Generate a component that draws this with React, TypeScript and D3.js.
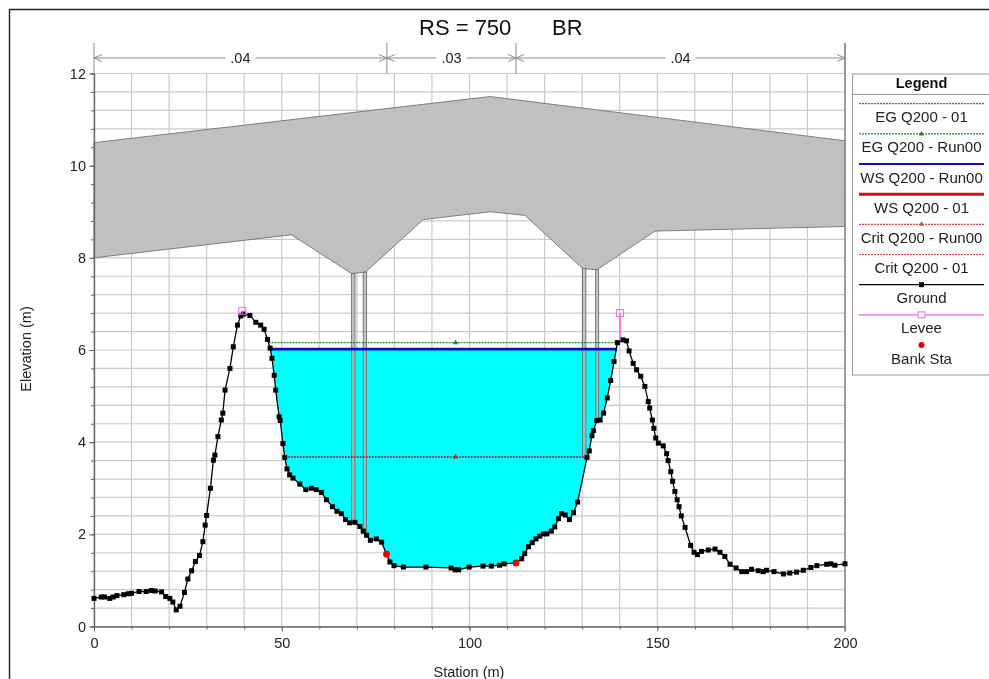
import React, { useEffect, useRef } from 'react'
import * as d3 from 'd3'

const width = 989
const height = 679
const FONT = '"Liberation Sans", Arial, sans-serif'

// ground survey: station / elevation
const groundStation = [
  0, 1.95, 2.8, 4.2, 5.1, 6.1, 7.9, 9.1, 10, 12, 13.9, 15.3, 16.3, 18, 19.1, 20.2, 21, 21.9, 22.9, 24.1,
  25, 26, 27, 28.1, 29, 29.6, 30, 31, 31.8, 32.2, 33, 33.9, 34.3, 34.9, 36.2, 37.1, 38.2, 39.1, 39.8, 41.5,
  43.1, 44.4, 45.3, 46.2, 46.9, 47.4, 48, 48.4, 49.3, 49.6, 50.3, 50.8, 51.4, 52.1, 53, 54.8, 56.4, 57.9, 59.2, 60.6,
  61.9, 63.5, 64.7, 65.9, 67, 68.1, 69.5, 70.8, 71.7, 72.6, 73.6, 75.2, 76.6, 77.9, 78.8, 79.9, 82.4, 88.4, 95.1, 96.2,
  97.1, 99.9, 103.6, 105.8, 108, 109.2, 112.4, 113.9, 114.7, 115.7, 116.7, 117.7, 118.7, 119.7, 120.6, 121.8, 122.7, 123.7, 124.5, 125.5,
  126.6, 127.7, 128.8, 131.3, 131.9, 132.6, 133, 133.9, 134.8, 135.7, 136.7, 137.6, 138.5, 139.4, 140.8, 141.8, 142.5, 143.6, 144.5, 145.6,
  146.7, 147.6, 148, 148.7, 149.1, 149.6, 150.3, 151.6, 152.5, 152.9, 153.6, 154.1, 154.7, 155.3, 155.8, 156.4, 157.4, 158.9, 159.8, 160.7,
  161.8, 163.6, 165.4, 166.7, 168, 169.4, 171, 172.5, 173.8, 175.1, 176.9, 178.2, 179.1, 181.1, 183.6, 185.3, 187.1, 188.9, 190.9, 192.5,
  195.1, 196.2, 197.3, 200,
]
const groundElevation = [
  0.61, 0.64, 0.64, 0.61, 0.64, 0.67, 0.69, 0.71, 0.72, 0.76, 0.76, 0.78, 0.77, 0.75, 0.65, 0.61, 0.53, 0.36, 0.44, 0.74,
  1.03, 1.21, 1.41, 1.54, 1.84, 2.2, 2.41, 3.0, 3.61, 3.72, 4.12, 4.48, 4.63, 5.13, 5.6, 6.07, 6.54, 6.74, 6.78, 6.75,
  6.6, 6.54, 6.45, 6.23, 6.04, 5.82, 5.45, 5.13, 4.55, 4.47, 3.97, 3.67, 3.42, 3.29, 3.22, 3.09, 2.97, 3.0, 2.97, 2.91,
  2.75, 2.6, 2.5, 2.45, 2.32, 2.25, 2.26, 2.17, 2.07, 1.98, 1.87, 1.9, 1.83, 1.57, 1.4, 1.32, 1.29, 1.29, 1.27, 1.23,
  1.23, 1.29, 1.31, 1.31, 1.33, 1.36, 1.38, 1.47, 1.58, 1.73, 1.82, 1.9, 1.96, 2.01, 2.01, 2.07, 2.16, 2.34, 2.45, 2.42,
  2.32, 2.47, 2.7, 3.67, 3.81, 4.14, 4.25, 4.47, 4.48, 4.63, 4.96, 5.34, 5.75, 6.16, 6.22, 6.2, 5.98, 5.71, 5.57, 5.43,
  5.21, 4.88, 4.74, 4.48, 4.3, 4.09, 3.98, 3.92, 3.75, 3.6, 3.36, 3.15, 2.93, 2.75, 2.6, 2.4, 2.15, 1.76, 1.61, 1.56,
  1.63, 1.66, 1.68, 1.61, 1.52, 1.35, 1.27, 1.19, 1.19, 1.24, 1.21, 1.19, 1.22, 1.19, 1.14, 1.16, 1.18, 1.22, 1.28, 1.32,
  1.35, 1.36, 1.33, 1.36,
]

// bridge deck
const deckTopStation = [0, 105.5, 200]
const deckTopElevation = [10.5, 11.5, 10.54]
const deckLowStation = [0, 52.6, 68.6, 72.3, 87.7, 105.5, 114.8, 130.1, 133.9, 149.4, 200]
const deckLowElevation = [8, 8.5, 7.66, 7.69, 8.83, 9.0, 8.92, 7.77, 7.74, 8.58, 8.68]

// piers: left edge, right edge, top, foot
const pierLeft = [68.6, 71.7, 130.1, 133.6]
const pierRight = [69.5, 72.6, 131, 134.4]
const pierTop = [7.66, 7.69, 7.77, 7.74]
const pierFoot = [2.25, 2.05, 3.67, 4.47]

// water levels
const wsLevel = 6.02
const wsFrom = 46.9
const wsTo = 139.1
const egLevel = 6.16
const egFrom = 46.5
const egTo = 139.4
const critLevel = 3.68
const critFrom = 50.8
const critTo = 131.3
const levelMarkStation = 96.3

const bankStation = [77.9, 112.4]
const bankElevation = [1.57, 1.38]
const leveeStation = [39.5, 140.1]
const leveeTop = [6.85, 6.8]
const leveeFoot = [6.78, 6.2]

// Manning's n
const nBreaks = [0, 78, 112.4, 200]
const nLabels = ['.04', '.03', '.04']

const legendLabels = [
  'EG Q200 - 01',
  'EG Q200 - Run00',
  'WS Q200 - Run00',
  'WS Q200 - 01',
  'Crit Q200 - Run00',
  'Crit Q200 - 01',
  'Ground',
  'Levee',
  'Bank Sta',
]
const legendColors = ['#1f8a2c', '#1f8a2c', '#1010d0', '#e01010', '#e04040', '#e04040', '#000000', '#ee66ee', '#ee0000']
const legendWidths = [1.2, 1.2, 2, 3, 1.2, 1.2, 1.2, 1.2, 0]
const legendDash = ['2 1', '2 1', '', '', '2 1', '2 1', '', '', '']

export default function App() {
  const ref = useRef<SVGSVGElement>(null)

  useEffect(() => {
    const svg = d3.select(ref.current)
    svg.selectAll('*').remove()

    const x = d3.scaleLinear().domain([0, 200]).range([94, 845])
    const y = d3.scaleLinear().domain([0, 12]).range([626.5, 73.5])

    const defs = svg.append('defs')
    defs.append('filter').attr('id', 'soft').append('feGaussianBlur').attr('stdDeviation', 0.35)

    const root = svg.append('g').attr('filter', 'url(#soft)')
    root.append('rect').attr('width', width).attr('height', height).attr('fill', '#fff')

    // frame, only the left and top edges are in the shot
    root
      .append('path')
      .attr('d', `M9.5,${height}V9.5H${width}`)
      .attr('fill', 'none')
      .attr('stroke', '#222')
      .attr('stroke-width', 1.4)

    root
      .append('text')
      .attr('x', 419)
      .attr('y', 35)
      .attr('font-family', FONT)
      .attr('font-size', 22)
      .attr('fill', '#111')
      .text('RS = 750')
    root
      .append('text')
      .attr('x', 552)
      .attr('y', 35)
      .attr('font-family', FONT)
      .attr('font-size', 22)
      .attr('fill', '#111')
      .text('BR')

    // grid
    const grid = root.append('g').attr('stroke', '#cbcbcb').attr('stroke-width', 1.2)
    d3.range(0, 21).forEach((i) => {
      const v = i * 10
      grid.append('line').attr('x1', x(v)).attr('x2', x(v)).attr('y1', y(0)).attr('y2', y(12))
    })
    d3.range(0, 31).forEach((i) => {
      const v = i * 0.4
      grid.append('line').attr('x1', x(0)).attr('x2', x(200)).attr('y1', y(v)).attr('y2', y(v))
    })

    // bridge deck
    const deckLine = d3
      .line<number>()
      .x((d) => d[0])
      .y((d) => d[1])
    const deckPoints = [
      ...deckTopStation.map((s, i) => [x(s), y(deckTopElevation[i])]),
      ...deckLowStation.map((s, i) => [x(s), y(deckLowElevation[i])]).reverse(),
    ]
    root
      .append('path')
      .attr('d', deckLine(deckPoints as any) + 'Z')
      .attr('fill', '#c0c0c0')
      .attr('stroke', '#666')
      .attr('stroke-width', 0.8)

    // water, ground line closed off at the water surface
    const wetStation = groundStation.filter((s) => s > wsFrom && s < wsTo)
    const wetElevation = groundElevation.filter((_, i) => groundStation[i] > wsFrom && groundStation[i] < wsTo)
    const water = d3
      .area<number>()
      .x((s) => x(s))
      .y0((_, i) => y(i === 0 || i === wetStation.length + 1 ? wsLevel : wetElevation[i - 1]))
      .y1(y(wsLevel))
    root
      .append('path')
      .attr('d', water([wsFrom, ...wetStation, wsTo]))
      .attr('fill', '#00ffff')

    // piers
    pierLeft.forEach((l, i) => {
      root
        .append('rect')
        .attr('x', x(l))
        .attr('y', y(pierTop[i]))
        .attr('width', x(pierRight[i]) - x(l))
        .attr('height', y(pierFoot[i]) - y(pierTop[i]))
        .attr('fill', '#b4b4b4')
        .attr('fill-opacity', 0.8)
        .attr('stroke', '#707070')
        .attr('stroke-width', 0.9)
    })

    // axes
    const axisColor = '#666'
    const styleAxis = (g: any) => {
      g.select('.domain').attr('stroke', axisColor).attr('stroke-width', 1.2)
      g.selectAll('.tick line').attr('stroke', axisColor)
      g.selectAll('text').attr('font-family', FONT).attr('font-size', 14.5).attr('fill', '#222')
    }
    root
      .append('g')
      .attr('transform', `translate(0,${y(0)})`)
      .call(d3.axisBottom(x).tickValues(d3.range(0, 201, 10)).tickSize(3).tickFormat(() => ''))
      .call(styleAxis)
    root
      .append('g')
      .attr('transform', `translate(0,${y(0)})`)
      .call(d3.axisBottom(x).tickValues([0, 50, 100, 150, 200]).tickSize(5).tickPadding(6).tickSizeOuter(0))
      .call(styleAxis)
    root
      .append('g')
      .attr('transform', `translate(${x(0)},0)`)
      .call(d3.axisLeft(y).tickValues(d3.range(0, 31).map((i) => i * 0.4)).tickSize(3).tickFormat(() => ''))
      .call(styleAxis)
    root
      .append('g')
      .attr('transform', `translate(${x(0)},0)`)
      .call(d3.axisLeft(y).tickValues([0, 2, 4, 6, 8, 10, 12]).tickSize(5).tickPadding(3).tickSizeOuter(0))
      .call(styleAxis)
    root
      .append('line')
      .attr('x1', x(200))
      .attr('x2', x(200))
      .attr('y1', 43)
      .attr('y2', y(0) + 5)
      .attr('stroke', '#8a8a8a')
      .attr('stroke-width', 1.6)

    root
      .append('text')
      .attr('x', 469)
      .attr('y', 677)
      .attr('text-anchor', 'middle')
      .attr('font-family', FONT)
      .attr('font-size', 14.5)
      .attr('fill', '#222')
      .text('Station (m)')
    root
      .append('text')
      .attr('transform', 'translate(31,349) rotate(-90)')
      .attr('text-anchor', 'middle')
      .attr('font-family', FONT)
      .attr('font-size', 14.5)
      .attr('fill', '#222')
      .text('Elevation (m)')

    // Manning's n band along the top
    const nColor = '#8c8c8c'
    const nY = 58
    const nBand = root.append('g').attr('stroke', nColor).attr('fill', 'none').attr('stroke-width', 1)
    nBreaks.forEach((b) => {
      nBand.append('line').attr('x1', x(b)).attr('x2', x(b)).attr('y1', 43).attr('y2', y(12))
    })
    nLabels.forEach((label, i) => {
      const a = x(nBreaks[i])
      const b = x(nBreaks[i + 1])
      const mid = (a + b) / 2
      nBand.append('line').attr('x1', a).attr('x2', mid - 15).attr('y1', nY).attr('y2', nY)
      nBand.append('line').attr('x1', mid + 15).attr('x2', b).attr('y1', nY).attr('y2', nY)
      nBand.append('path').attr('d', `M${a + 8},${nY - 3.5}L${a},${nY}L${a + 8},${nY + 3.5}`)
      nBand.append('path').attr('d', `M${b - 8},${nY - 3.5}L${b},${nY}L${b - 8},${nY + 3.5}`)
      root
        .append('text')
        .attr('x', mid)
        .attr('y', nY + 5)
        .attr('text-anchor', 'middle')
        .attr('font-family', FONT)
        .attr('font-size', 14.5)
        .attr('fill', '#222')
        .text(label)
    })

    // water surface lines
    const level = (from: number, to: number, v: number, color: string, w: number, dash?: string) =>
      root
        .append('line')
        .attr('x1', x(from))
        .attr('x2', x(to))
        .attr('y1', y(v))
        .attr('y2', y(v))
        .attr('stroke', color)
        .attr('stroke-width', w)
        .attr('stroke-dasharray', dash ?? null)
    level(egFrom, egTo, egLevel, '#1f8a2c', 1.3, '2 1')
    level(wsFrom, wsTo, wsLevel, '#e01010', 1)
    level(wsFrom, wsTo, wsLevel, '#1010d0', 2.6)
    level(critFrom, critTo, critLevel, '#a82020', 1.5, '2 1')
    const triangle = d3.symbol().type(d3.symbolTriangle).size(12)
    root
      .append('path')
      .attr('d', triangle())
      .attr('transform', `translate(${x(levelMarkStation)},${y(egLevel)})`)
      .attr('fill', '#1f8a2c')
    root
      .append('path')
      .attr('d', triangle())
      .attr('transform', `translate(${x(levelMarkStation)},${y(critLevel)})`)
      .attr('fill', '#c02020')

    // ground
    const groundLine = d3
      .line<number>()
      .x((s) => x(s))
      .y((_, i) => y(groundElevation[i]))
    root
      .append('path')
      .attr('d', groundLine(groundStation))
      .attr('fill', 'none')
      .attr('stroke', '#000')
      .attr('stroke-width', 1.3)
    root
      .append('g')
      .selectAll('rect')
      .data(groundStation)
      .join('rect')
      .attr('x', (s) => x(s) - 2.5)
      .attr('y', (_, i) => y(groundElevation[i]) - 2.5)
      .attr('width', 5)
      .attr('height', 5)
      .attr('fill', '#000')

    // levees
    leveeStation.forEach((s, i) => {
      root
        .append('line')
        .attr('x1', x(s))
        .attr('x2', x(s))
        .attr('y1', y(leveeTop[i]))
        .attr('y2', y(leveeFoot[i]))
        .attr('stroke', '#ee44ee')
        .attr('stroke-width', 1.2)
      root
        .append('rect')
        .attr('x', x(s) - 3.5)
        .attr('y', y(leveeTop[i]) - 3.5)
        .attr('width', 7)
        .attr('height', 7)
        .attr('fill', 'none')
        .attr('stroke', '#ee66ee')
    })

    // bank stations
    root
      .append('g')
      .selectAll('circle')
      .data(bankStation)
      .join('circle')
      .attr('cx', (s) => x(s))
      .attr('cy', (_, i) => y(bankElevation[i]))
      .attr('r', 3.4)
      .attr('fill', '#ee0000')

    // legend, runs off the right of the shot
    const legendLeft = 852.5
    const legend = root.append('g').attr('font-family', FONT)
    legend
      .append('rect')
      .attr('x', legendLeft)
      .attr('y', 74)
      .attr('width', 160)
      .attr('height', 301)
      .attr('fill', '#fff')
      .attr('stroke', '#999')
    legend
      .append('line')
      .attr('x1', legendLeft)
      .attr('x2', width)
      .attr('y1', 94.5)
      .attr('y2', 94.5)
      .attr('stroke', '#999')
    legend
      .append('text')
      .attr('x', 921.5)
      .attr('y', 88)
      .attr('text-anchor', 'middle')
      .attr('font-size', 14.5)
      .attr('font-weight', 'bold')
      .attr('fill', '#111')
      .text('Legend')

    const row = d3.scaleLinear().domain([0, 8]).range([103.7, 345])
    legendLabels.forEach((label, i) => {
      const ly = row(i)
      if (legendWidths[i] > 0) {
        legend
          .append('line')
          .attr('x1', 859)
          .attr('x2', 984)
          .attr('y1', ly)
          .attr('y2', ly)
          .attr('stroke', legendColors[i])
          .attr('stroke-width', legendWidths[i])
          .attr('stroke-dasharray', legendDash[i] || null)
      }
      if (label === 'Ground') {
        legend.append('rect').attr('x', 919).attr('y', ly - 2.5).attr('width', 5).attr('height', 5).attr('fill', '#000')
      } else if (label === 'Levee') {
        legend
          .append('rect')
          .attr('x', 918)
          .attr('y', ly - 3)
          .attr('width', 7)
          .attr('height', 6)
          .attr('fill', '#fff')
          .attr('stroke', '#ee66ee')
      } else if (label === 'Bank Sta') {
        legend.append('circle').attr('cx', 921.5).attr('cy', ly).attr('r', 3).attr('fill', '#ee0000')
      } else if (i === 1 || i === 4) {
        legend
          .append('path')
          .attr('d', triangle())
          .attr('transform', `translate(921.5,${ly})`)
          .attr('fill', legendColors[i])
      }
      legend
        .append('text')
        .attr('x', 921.5)
        .attr('y', ly + 18.5)
        .attr('text-anchor', 'middle')
        .attr('font-size', 15)
        .attr('fill', '#222')
        .text(label)
    })
  }, [])

  return <svg ref={ref} width={width} height={height} style={{ position: 'absolute', left: 0, top: 0 }} />
}
